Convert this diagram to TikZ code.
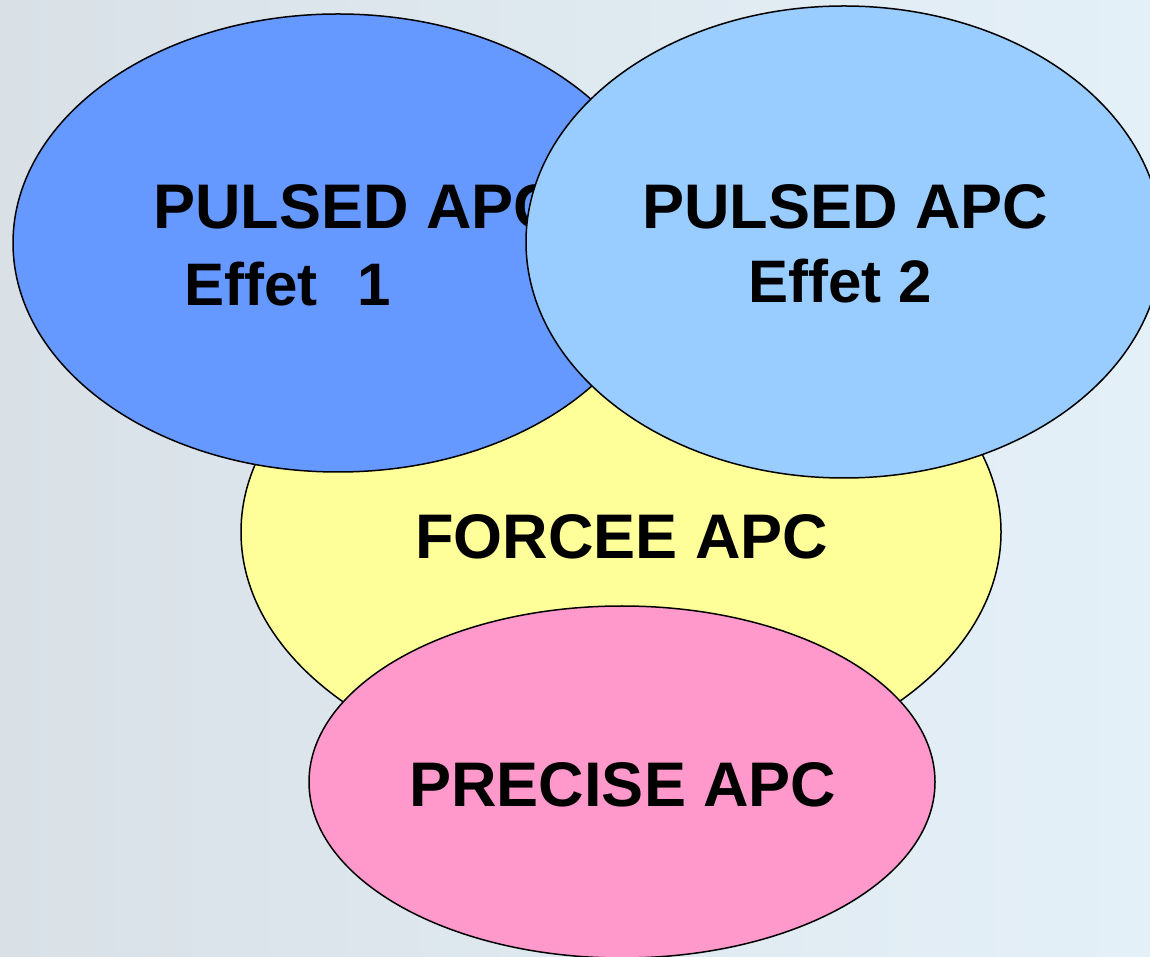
\documentclass[tikz,border=0pt]{standalone}
\usepackage{fontspec}
\setmainfont{Liberation Sans}
\usetikzlibrary{shapes.geometric}
\definecolor{bgA}{HTML}{D9E1E7}
\definecolor{bgB}{HTML}{E4F0F8}
\definecolor{blobA}{HTML}{99CCFF}
\definecolor{blobB}{HTML}{6699FF}
\definecolor{blobY}{HTML}{FFFF99}
\definecolor{blobP}{HTML}{FF99CC}
\tikzset{
  x=1pt, y=1pt,
  oval/.style={ellipse, draw=black, line width=1.5pt, inner sep=0pt, outer sep=0pt},
  lbltop/.style={font=\bfseries\fontsize{63}{63}\selectfont, inner sep=0pt, anchor=base west},
  lbl/.style={font=\bfseries\fontsize{60}{60}\selectfont, inner sep=0pt, anchor=base west},
  lblbig/.style={font=\bfseries\fontsize{63}{63}\selectfont, inner sep=0pt, anchor=base}
}
\begin{document}
\begin{tikzpicture}
\useasboundingbox (0,0) rectangle (1150,956);
\clip (0,0) rectangle (1150,956);
\shade[left color=bgA, right color=bgB] (0,0) rectangle (1150,956);
% yellow
\node[oval, fill=blobY, minimum width=760pt, minimum height=498pt] (forcee) at (621,424) {};
% pink
\node[oval, fill=blobP, minimum width=626pt, minimum height=352pt] (precise) at (622,174) {};
% dark blue
\node[oval, fill=blobB, minimum width=650pt, minimum height=458pt] (pulsed1) at (338,713) {};
\node[lbltop] (t1a) at (153,727) {PULSED APC};
\node[lbl] (t1b) at (184,650) {Effet\hspace{40pt}1};
% light blue
\node[oval, fill=blobA, minimum width=636pt, minimum height=472pt] (pulsed2) at (844,714) {};
\node[lbltop] (t2a) at (642,727) {PULSED APC};
\node[lbl] (t2b) at (748,653) {Effet 2};
\node[lblbig] (t3) at (622,397) {FORCEE APC};
\node[lblbig] (t4) at (623,150) {PRECISE APC};
\end{tikzpicture}
\end{document}
